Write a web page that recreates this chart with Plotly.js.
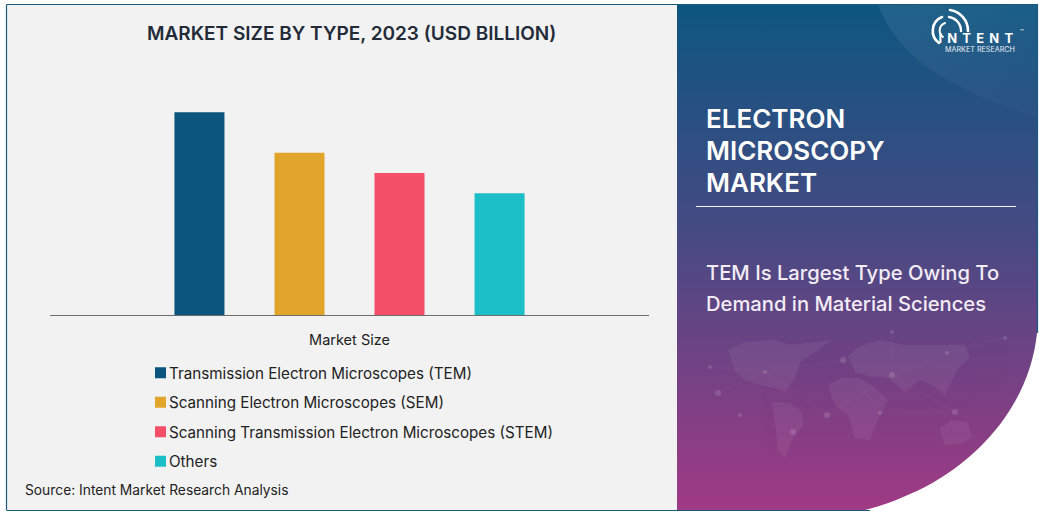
<!DOCTYPE html>
<html><head><meta charset="utf-8">
<script src="https://cdn.plot.ly/plotly-3.0.1.min.js"></script>
<style>
html,body{margin:0;padding:0;background:#fff;width:1043px;height:513px;overflow:hidden}
#bg{position:absolute;left:0;top:0}
#chart{position:absolute;left:0;top:0;width:1043px;height:513px}
</style></head><body>
<svg id="bg" width="1043" height="513" viewBox="0 0 1043 513">
<defs>
<linearGradient id="g" x1="0" y1="0" x2="0" y2="1">
<stop offset="0" stop-color="#0d5680"/><stop offset=".45" stop-color="#464a83"/><stop offset="1" stop-color="#a03a85"/>
</linearGradient>
<linearGradient id="h" x1="0" y1="0" x2="0.6" y2="1">
<stop offset="0" stop-color="#fff" stop-opacity=".08"/><stop offset="1" stop-color="#fff" stop-opacity=".02"/>
</linearGradient>
<clipPath id="c"><path d="M677 4H1037V333C1030 400 985 455 925 487C905 497 885 505 865 510H677Z"/></clipPath>
</defs>
<rect x="6.5" y="4" width="671" height="506" fill="#f2f2f2"/>
<path d="M677 4H1037V333C1030 400 985 455 925 487C905 497 885 505 865 510H677Z" fill="url(#g)"/>
<g clip-path="url(#c)">
<path d="M878 4C895 50 935 85 1037 117V4Z" fill="url(#h)"/>
<g fill="#fff" opacity=".055">
<path d="M728 350L745 342L775 340L790 345L832 340L815 352L800 362L795 378L785 392L775 388L760 385L745 380L735 372Z"/>
<path d="M772 402L790 403L802 412L803 425L792 440L785 458L778 450L776 430Z"/>
<path d="M848 356L860 346L880 340L905 345L965 345L970 358L958 368L945 395L932 385L920 380L905 392L888 378L868 376L855 372Z"/>
<path d="M828 385L842 378L860 378L875 388L888 400L878 420L870 440L855 438L848 415L835 405Z"/>
<path d="M940 428L952 420L968 422L972 438L960 444L945 445Z"/>
</g>
<g fill="#fff" opacity=".13">
<circle cx="710" cy="367" r="2"/><circle cx="718" cy="393" r="3"/><circle cx="740" cy="415" r="2"/><circle cx="765" cy="372" r="2"/><circle cx="827" cy="415" r="3"/><circle cx="793" cy="432" r="3"/><circle cx="843" cy="360" r="3"/><circle cx="892" cy="375" r="3"/><circle cx="947" cy="353" r="2"/><circle cx="955" cy="412" r="3"/><circle cx="880" cy="413" r="2"/><circle cx="892" cy="332" r="2"/><circle cx="1005" cy="338" r="2"/>
</g>
<g stroke="#fff" stroke-width=".5" opacity=".07" fill="none">
<path d="M710 367L765 372L843 360L892 375L947 353L1005 338M718 393L765 372L827 415L892 375L955 412M740 415L793 432L827 415L880 413L955 412M843 360L880 413M892 332L892 375"/>
</g>
</g>
<path d="M6.5 4.5H1037.5V333M6.5 4.5V510M6.5 510.5H870" fill="none" stroke="#1a5a80" stroke-width="1.2"/>
<rect x="696" y="206" width="320" height="1" fill="#f2f2f2"/>
<g fill="none" stroke="#fff" stroke-linecap="round">
<path d="M950 10A21 21 0 0 1 968 31" stroke-width="2.6"/>
<path d="M949 17A14 14 0 0 1 961 31" stroke-width="2.4"/>
<path d="M939 43A15 15 0 0 1 942 17" stroke-width="2.6"/>
<path d="M943 37A8 8 0 0 1 945 23" stroke-width="2"/>
</g>
</svg>
<div id="chart"></div>
<script>
var categories = ['Market Size'];
var typeNames = ['Transmission Electron Microscopes (TEM)','Scanning Electron Microscopes (SEM)','Scanning Transmission Electron Microscopes (STEM)','Others'];
var typeValues = [100, 80, 70, 60];
var typeColors = ['#0b547e','#e2a52c','#f34f69','#1cbec8'];
var chartTitle = 'MARKET SIZE BY TYPE, 2023 (USD BILLION)';
var sourceText = 'Source: Intent Market Research Analysis';
var panelTitle = ['ELECTRON','MICROSCOPY','MARKET'];
var panelText = ['TEM Is Largest Type Owing To','Demand in Material Sciences'];
var FONT = 'Inter, "Open Sans", sans-serif';

var L=50,R=649,T=92,B=315.5;
function px(x){return (x-L)/(R-L);}
function py(y){return (B-y)/(B-T);}
function note(text,x,y,size,color,weight,anchor){
  return {text:text,xref:'paper',yref:'paper',x:px(x),y:py(y),xanchor:anchor||'left',yanchor:'middle',showarrow:false,
    font:{family:FONT,size:size,color:color,weight:weight||400}};
}
var traces = typeNames.map(function(n,i){
  return {type:'bar',name:n,x:categories,y:[typeValues[i]],marker:{color:typeColors[i]},legendgroup:'g'+i,hoverinfo:'name+y'};
});
var ann = [note(chartTitle,351,33,19,'#232b39',600,'center'),
  note(sourceText,23,491,13.8,'#222',400)];
panelTitle.forEach(function(t,i){ann.push(note(t,704,119+32*i,26,'#fff',600));});
panelText.forEach(function(t,i){ann.push(note(t,704,273+31*i,20.2,'#f3ecf5',500));});
ann.push(note('INTENT',952,38,13,'#fff',700));
ann.push(note('MARKET RESEARCH',943,49.5,7.2,'#e6eef4',400));
ann.push(note('™',1018,31,6,'#fff',400));
var layout = {
  width:1043,height:513,
  margin:{l:L,r:1043-R,t:T,b:513-B,pad:0},
  paper_bgcolor:'rgba(0,0,0,0)',plot_bgcolor:'rgba(0,0,0,0)',
  barmode:'group',bargap:0.332,bargroupgap:0.5,
  font:{family:FONT,color:'#222'},
  xaxis:{type:'category',showline:true,linecolor:'#6d6d6d',linewidth:1,ticks:'outside',ticklen:12,tickcolor:'rgba(0,0,0,0)',
    tickfont:{size:14.5,color:'#222',family:FONT},showgrid:false,zeroline:false,fixedrange:true},
  yaxis:{range:[0,110],visible:false,showgrid:false,zeroline:false,fixedrange:true},
  showlegend:true,
  legend:{x:px(140.5),y:py(357),xanchor:'left',yanchor:'top',traceorder:'grouped',tracegroupgap:6.7,
    font:{size:15.2,color:'#222',family:FONT},bgcolor:'rgba(0,0,0,0)',borderwidth:0},
  annotations:ann
};
Plotly.newPlot('chart',traces,layout,{displayModeBar:false,staticPlot:true}).then(function(gd){
  gd.querySelectorAll('.legend .legendtext').forEach(function(t){t.setAttribute('x','28.5');
    t.querySelectorAll('tspan').forEach(function(s){if(s.getAttribute('x'))s.setAttribute('x','28.5');});});
  gd.querySelectorAll('.legend .legendundefined, .legend .legendbar path, .legend .legendpoints path').forEach(function(p){
    p.setAttribute('d','M5.5,5.5H-5.5V-5.5H5.5Z');});
  gd.querySelectorAll('.annotation-text').forEach(function(t){
    if(t.textContent==='INTENT'){t.style.letterSpacing='5.2px';}
  });
});
</script>
</body></html>
